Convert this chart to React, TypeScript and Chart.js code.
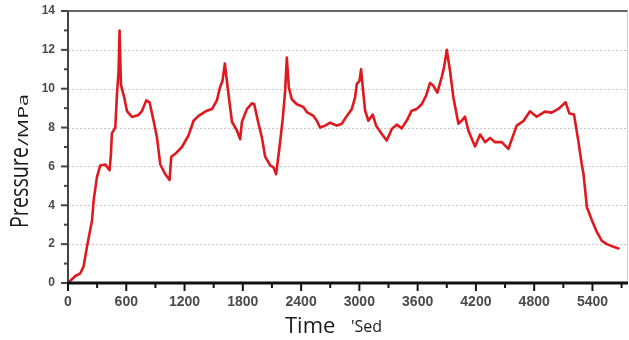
import React, { useEffect, useRef } from "react";
import { Chart, registerables } from "chart.js";

Chart.register(...registerables);

const times: number[] = [
  0, 75, 127, 160, 195, 247, 264, 298, 332, 384, 428, 442, 452, 487, 504, 521, 531, 545, 579, 607,
  659, 727, 761, 806, 840, 881, 916, 950, 1001, 1046, 1063, 1104, 1173, 1241, 1293, 1344, 1430, 1482,
  1533, 1567, 1591, 1615, 1643, 1688, 1739, 1773, 1791, 1842, 1893, 1917, 1962, 1996, 2030, 2082,
  2116, 2143, 2178, 2212, 2236, 2253, 2274, 2305, 2356, 2425, 2459, 2527, 2562, 2596, 2648, 2699,
  2768, 2819, 2871, 2922, 2956, 2974, 3001, 3018, 3035, 3059, 3093, 3138, 3172, 3231, 3282, 3334,
  3385, 3436, 3488, 3539, 3591, 3642, 3687, 3728, 3762, 3803, 3848, 3872, 3900, 3934, 3968, 4020,
  4054, 4088, 4122, 4191, 4243, 4294, 4346, 4397, 4466, 4534, 4620, 4688, 4757, 4826, 4911, 4980,
  5049, 5124, 5162, 5210, 5254, 5289, 5308, 5343, 5394, 5445, 5497, 5548, 5617, 5668,
];

const pressures: number[] = [
  0, 0.36, 0.5, 0.84, 1.86, 3.2, 4.25, 5.45, 6.05, 6.1, 5.8, 6.65, 7.7, 8.0, 9.7, 10.9, 13.0, 10.2, 9.55, 8.85,
  8.55, 8.65, 8.85, 9.4, 9.3, 8.35, 7.5, 6.1, 5.6, 5.3, 6.5, 6.65, 7.0, 7.6, 8.35, 8.6, 8.87, 8.95,
  9.4, 10.1, 10.4, 11.3, 10.1, 8.3, 7.85, 7.4, 8.3, 8.95, 9.25, 9.2, 8.2, 7.5, 6.5, 6.05,
  5.95, 5.6, 7.0, 8.5, 9.9, 11.6, 10.05, 9.45, 9.2, 9.05, 8.8, 8.6, 8.35, 8.0, 8.1, 8.25,
  8.1, 8.2, 8.6, 8.95, 9.55, 10.25, 10.4, 11.0, 10.07, 8.87, 8.35, 8.67, 8.1, 7.67, 7.33, 7.93,
  8.15, 7.96, 8.36, 8.87, 8.96, 9.2, 9.64, 10.3, 10.15, 9.8, 10.6, 11.1, 12.0, 10.9, 9.55, 8.2,
  8.36, 8.56, 7.85, 7.03, 7.64, 7.25, 7.47, 7.25, 7.25, 6.9, 8.1, 8.33, 8.84, 8.56, 8.82, 8.77,
  8.96, 9.3, 8.73, 8.67, 7.33, 6.14, 5.6, 3.9, 3.23, 2.63, 2.17, 2.0, 1.86, 1.78,
];

const xTickValues: number[] = [0, 600, 1200, 1800, 2400, 3000, 3600, 4200, 4800, 5400];
const xMinorValues: number[] = [300, 900, 1500, 2100, 2700, 3300, 3900, 4500, 5100, 5700];
const yTickValues: number[] = [0, 2, 4, 6, 8, 10, 12, 14];
const yMinorValues: number[] = [1, 3, 5, 7, 9, 11, 13];
const yGridValues: number[] = [2, 4, 6, 8, 10, 12];

const X_MAX = 5766;
const Y_MAX = 14;

const xTitle = "Time";
const xUnit = "'Sed";
const yTitle = "Pressure";
const yUnit = "/MPa";

const framePlugin = {
  id: "frame",
  beforeDatasetsDraw(chart: any) {
    const { ctx, chartArea, scales } = chart;
    const ys = scales.y;
    const { left, right, top, bottom } = chartArea;
    ctx.save();
    ctx.strokeStyle = "#c8c8c8";
    ctx.lineWidth = 1;
    ctx.setLineDash([2, 2]);
    yGridValues.forEach((v) => {
      const y = Math.round(ys.getPixelForValue(v)) + 0.5;
      ctx.beginPath();
      ctx.moveTo(left, y);
      ctx.lineTo(right, y);
      ctx.stroke();
    });
    ctx.setLineDash([]);
    ctx.strokeStyle = "#666";
    ctx.lineWidth = 2;
    ctx.beginPath();
    ctx.moveTo(left, top);
    ctx.lineTo(right, top);
    ctx.stroke();
    ctx.strokeStyle = "#d0d0d0";
    ctx.lineWidth = 1;
    ctx.beginPath();
    ctx.moveTo(right - 0.5, top);
    ctx.lineTo(right - 0.5, bottom);
    ctx.stroke();
    ctx.restore();
  },
  afterDatasetsDraw(chart: any) {
    const { ctx, chartArea, scales } = chart;
    const xs = scales.x;
    const ys = scales.y;
    const { left, right, top, bottom } = chartArea;
    ctx.save();
    ctx.strokeStyle = "#444";
    ctx.lineWidth = 2;
    ctx.beginPath();
    ctx.moveTo(left, top);
    ctx.lineTo(left, bottom);
    ctx.stroke();
    yTickValues.forEach((v) => {
      const y = ys.getPixelForValue(v);
      ctx.beginPath();
      ctx.moveTo(left - 7, y);
      ctx.lineTo(left, y);
      ctx.stroke();
    });
    yMinorValues.forEach((v) => {
      const y = ys.getPixelForValue(v);
      ctx.beginPath();
      ctx.moveTo(left - 4, y);
      ctx.lineTo(left, y);
      ctx.stroke();
    });
    ctx.strokeStyle = "#111";
    ctx.lineWidth = 3;
    ctx.beginPath();
    ctx.moveTo(left - 1, bottom);
    ctx.lineTo(right, bottom);
    ctx.stroke();
    ctx.lineWidth = 2;
    xTickValues.forEach((v) => {
      const x = xs.getPixelForValue(v);
      ctx.beginPath();
      ctx.moveTo(x, bottom);
      ctx.lineTo(x, bottom + 8);
      ctx.stroke();
    });
    xMinorValues.forEach((v) => {
      const x = xs.getPixelForValue(v);
      ctx.beginPath();
      ctx.moveTo(x, bottom);
      ctx.lineTo(x, bottom + 5);
      ctx.stroke();
    });

    ctx.fillStyle = "#1a1a1a";
    ctx.textBaseline = "alphabetic";
    ctx.textAlign = "left";
    ctx.font = "22px 'Open Sans'";
    ctx.fillText(xTitle, 285, 333);
    ctx.font = "16px 'Open Sans'";
    ctx.fillText(xUnit, 351, 332);

    ctx.save();
    ctx.translate(28, 228);
    ctx.rotate(-Math.PI / 2);
    ctx.font = "25px 'Open Sans'";
    const w1 = ctx.measureText(yTitle).width;
    ctx.save();
    ctx.scale(81 / w1, 1);
    ctx.fillText(yTitle, 0, 0);
    ctx.restore();
    ctx.font = "14px 'Open Sans'";
    const w2 = ctx.measureText(yUnit).width;
    ctx.save();
    ctx.translate(82, 0);
    ctx.scale(52 / w2, 1);
    ctx.fillText(yUnit, 0, 0);
    ctx.restore();
    ctx.restore();

    ctx.restore();
  },
};

export default function App() {
  const ref = useRef<HTMLCanvasElement>(null);
  useEffect(() => {
    if (!ref.current) return;
    const chart = new Chart(ref.current, {
      type: "line",
      data: {
        datasets: [
          {
            data: times.map((t, i) => ({ x: t, y: pressures[i] })),
            borderColor: "#e0191e",
            borderWidth: 2.6,
            borderJoinStyle: "round",
            borderCapStyle: "round",
            pointRadius: 0,
            tension: 0,
            fill: false,
          },
        ],
      },
      options: {
        responsive: false,
        animation: false,
        devicePixelRatio: 1,
        layout: { padding: { top: 11, right: 1, left: 0, bottom: 0 } },
        plugins: { legend: { display: false }, tooltip: { enabled: false } },
        scales: {
          x: {
            type: "linear",
            min: 0,
            max: X_MAX,
            grid: { display: false, drawTicks: false },
            border: { display: false },
            afterBuildTicks: (scale: any) => {
              scale.ticks = xTickValues.map((v) => ({ value: v }));
            },
            afterFit: (scale: any) => {
              scale.height = 57;
              scale.paddingLeft = 0;
              scale.paddingRight = 0;
            },
            ticks: {
              padding: 11,
              maxRotation: 0,
              autoSkip: false,
              color: "#4a4a4a",
              callback: (v: any) => String(v),
              font: { family: "'Liberation Sans', Arial", size: 14, weight: "bold" },
            },
          },
          y: {
            type: "linear",
            min: 0,
            max: Y_MAX,
            grid: { display: false, drawTicks: false },
            border: { display: false },
            afterBuildTicks: (scale: any) => {
              scale.ticks = yTickValues.map((v) => ({ value: v }));
            },
            afterFit: (scale: any) => {
              scale.width = 68;
              scale.paddingTop = 0;
              scale.paddingBottom = 0;
            },
            ticks: {
              padding: 13,
              color: "#4a4a4a",
              callback: (v: any) => String(v),
              font: { family: "'Liberation Sans', Arial", size: 12, weight: "bold" },
            },
          },
        },
      },
      plugins: [framePlugin],
    });
    return () => chart.destroy();
  }, []);
  return (
    <div style={{ position: "absolute", left: 0, top: 0, width: 629, height: 340, background: "#fff" }}>
      <canvas ref={ref} width={629} height={340} />
    </div>
  );
}
